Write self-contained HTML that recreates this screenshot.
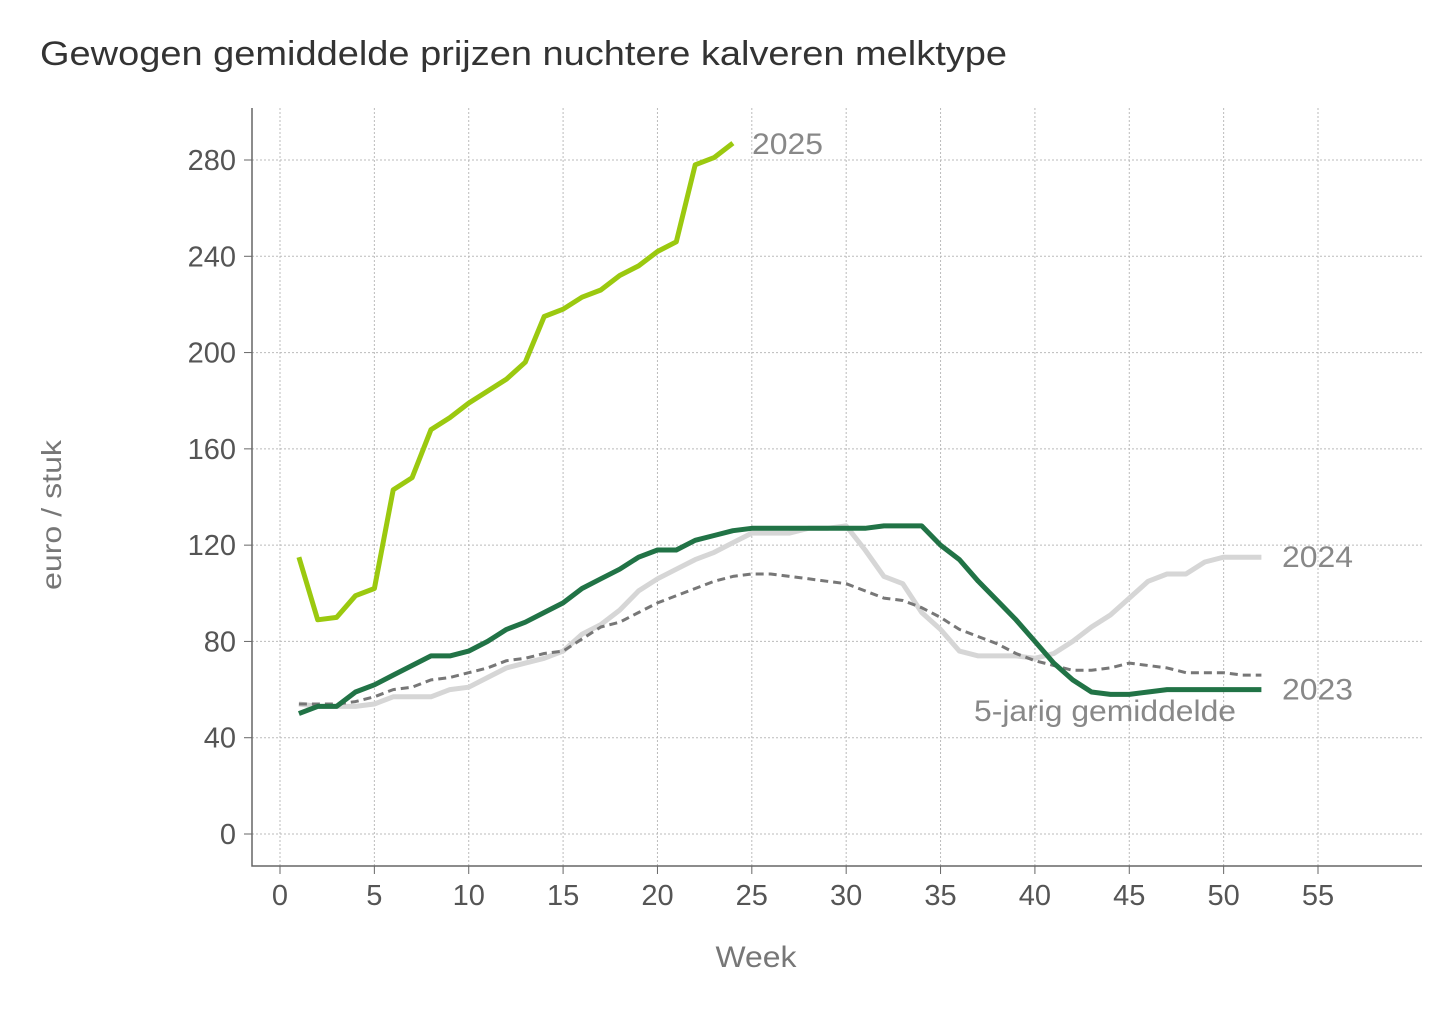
<!DOCTYPE html>
<html><head><meta charset="utf-8"><style>
body{margin:0;background:#fff;font-family:"Liberation Sans",sans-serif;}
svg text{font-family:"Liberation Sans",sans-serif;}
</style></head><body>
<svg id="chart" width="1456" height="1018" xmlns="http://www.w3.org/2000/svg">
<text x="40" y="65" font-size="34" fill="#333" textLength="967" lengthAdjust="spacingAndGlyphs">Gewogen gemiddelde prijzen nuchtere kalveren melktype</text>
<g id="grid"></g><g id="axes"></g><g id="series"></g>
<text transform="translate(61,515) rotate(-90)" text-anchor="middle" font-size="28" fill="#777" textLength="150" lengthAdjust="spacingAndGlyphs">euro / stuk</text>
<text x="756" y="967" text-anchor="middle" font-size="30" fill="#777" textLength="81" lengthAdjust="spacingAndGlyphs">Week</text>
</svg>
<script>
const xTicks=[0,5,10,15,20,25,30,35,40,45,50,55];
const yTicks=[0,40,80,120,160,200,240,280];
const s2025=[115,89,90,99,102,143,148,168,173,179,184,189,196,215,218,223,226,232,236,242,246,278,281,287];
const s2023=[50,53,53,59,62,66,70,74,74,76,80,85,88,92,96,102,106,110,115,118,118,122,124,126,127,127,127,127,127,127,127,128,128,128,120,114,105,97,89,80,71,64,59,58,58,59,60,60,60,60,60,60];
const s2024=[54,53,53,53,54,57,57,57,60,61,65,69,71,73,76,83,87,93,101,106,110,114,117,121,125,125,125,127,127,128,118,107,104,92,85,76,74,74,74,73,75,80,86,91,98,105,108,108,113,115,115,115];
const sAvg=[54,54,54,55,57,60,61,64,65,67,69,72,73,75,76,81,86,88,92,96,99,102,105,107,108,108,107,106,105,104,101,98,97,94,90,85,82,79,75,72,70,68,68,69,71,70,69,67,67,67,66,66];
const X=w=>280+w*(1318-280)/55;
const Y=v=>834-v*(834-160)/280;
const NS="http://www.w3.org/2000/svg";
function mk(p,t,a){const e=document.createElementNS(NS,t);for(const k in a)e.setAttribute(k,a[k]);document.getElementById(p).appendChild(e);return e;}
xTicks.forEach(t=>{
 const l=mk('grid','line',{x1:X(t),x2:X(t),y1:108,y2:866,stroke:'#bbb','stroke-dasharray':'2,2','stroke-width':1});
 
 
 const tk=mk('axes','line',{x1:X(t),x2:X(t),y1:866,y2:874,stroke:'#666'});
 
 
 const tx=mk('axes','text',{x:X(t),y:905,'text-anchor':'middle','font-size':29,fill:'#555'});
 tx.textContent=t;
 
 
});
yTicks.forEach(t=>{
 const l=mk('grid','line',{x1:252,x2:1422,y1:Y(t),y2:Y(t),stroke:'#bbb','stroke-dasharray':'2,2','stroke-width':1});
 
 
 const tk=mk('axes','line',{x1:244,x2:252,y1:Y(t),y2:Y(t),stroke:'#666'});
 
 
 const tx=mk('axes','text',{x:236,y:Y(t)+10,'text-anchor':'end','font-size':29,fill:'#555'});
 tx.textContent=t;
 
 
});
const ax=mk('axes','path',{d:'M252,108V866H1422',fill:'none',stroke:'#666','stroke-width':1.5});


function line(arr,color,w,dash,name){
 const d=arr.map((v,i)=>(i?'L':'M')+X(i+1).toFixed(1)+','+Y(v).toFixed(1)).join('');
 const p=mk('series','path',{d:d,fill:'none',stroke:color,'stroke-width':w,'stroke-dasharray':dash||'none','stroke-linejoin':'round'});
 
 
}
line(s2024,'#d6d6d6',5,null,'line-2024');
line(sAvg,'#777',3,'8,5','line-5yr-average');
line(s2023,'#217346',5,null,'line-2023');
line(s2025,'#9bc90f',5,null,'line-2025');
function lab(x,y,t,name,len){const e=mk('series','text',{x:x,y:y,'font-size':30,fill:'#888',textLength:len,lengthAdjust:'spacingAndGlyphs'});e.textContent=t;
 
 }
lab(752,Y(s2025[23])+11,'2025','label-2025',71);
lab(1282,Y(s2024[51])+10,'2024','label-2024',71);
lab(1282,Y(s2023[51])+10,'2023','label-2023',71);
lab(974,721,'5-jarig gemiddelde','label-5yr-average',262);
</script>
</body></html>
